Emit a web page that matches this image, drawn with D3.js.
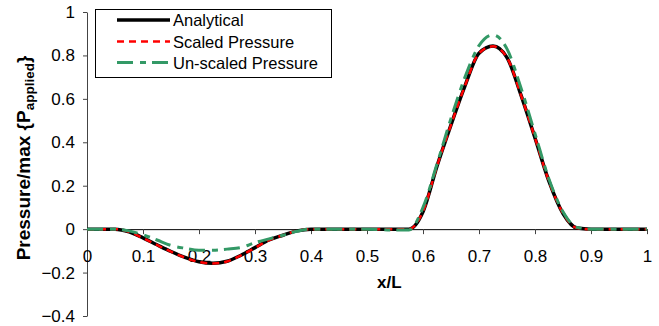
<!DOCTYPE html>
<html>
<head>
<meta charset="utf-8">
<script src="https://cdn.jsdelivr.net/npm/d3@7"></script>
<style>
  body { margin: 0; background: #fff; }
  text { font-family: "Liberation Sans", Arial, sans-serif; }
</style>
</head>
<body>
<div id="chart"></div>
<script>
// x/L positions
const xs = [0, 0.025, 0.05, 0.075, 0.1, 0.125, 0.15, 0.175, 0.2, 0.225, 0.25, 0.275, 0.3, 0.325, 0.35, 0.375, 0.4,
  0.45, 0.5, 0.55, 0.575, 0.6, 0.625, 0.65, 0.675, 0.7, 0.725, 0.75, 0.775, 0.8, 0.825, 0.85, 0.875, 0.9, 0.95, 1];

const analytical = [0, 0, 0, -0.012, -0.04, -0.072, -0.103, -0.13, -0.15, -0.157, -0.148, -0.12, -0.085, -0.05, -0.028, -0.008, 0,
  0, 0, 0, 0, 0.08, 0.29, 0.48, 0.66, 0.81, 0.843, 0.79, 0.617, 0.42, 0.22, 0.072, 0.005, 0, 0, 0];

const scaled = [0, 0, 0, -0.012, -0.041, -0.073, -0.104, -0.131, -0.151, -0.158, -0.149, -0.121, -0.086, -0.051, -0.028, -0.008, 0,
  0, 0, 0, 0, 0.082, 0.29, 0.48, 0.66, 0.81, 0.842, 0.79, 0.617, 0.42, 0.22, 0.073, 0.005, 0, 0, 0];

const unscaled = [0, 0, 0, -0.008, -0.026, -0.05, -0.075, -0.088, -0.097, -0.097, -0.092, -0.085, -0.062, -0.045, -0.028, -0.01, 0,
  0, 0, -0.004, -0.004, 0.1, 0.3, 0.51, 0.70, 0.845, 0.895, 0.83, 0.65, 0.44, 0.23, 0.08, 0.008, 0, 0, 0];

const xTicks = [0, 0.1, 0.2, 0.3, 0.4, 0.5, 0.6, 0.7, 0.8, 0.9, 1];
const yTicks = [-0.4, -0.2, 0, 0.2, 0.4, 0.6, 0.8, 1];

const seriesNames = ["Analytical", "Scaled Pressure", "Un-scaled Pressure"];
const seriesColors = ["#000000", "#ff0000", "#339966"];
const seriesDash = [null, "7,5", "16,7,6,6"];
const seriesWidth = [3.5, 2.5, 3];
const seriesValues = [analytical, scaled, unscaled];

const width = 659, height = 326;
const svg = d3.select("#chart").append("svg")
  .attr("width", width).attr("height", height);

const x = d3.scaleLinear().domain([0, 1]).range([87, 647]);
const y = d3.scaleLinear().domain([-0.4, 1]).range([316, 12]);

// y axis
const yAxis = svg.append("g")
  .attr("transform", `translate(${x(0)},0)`)
  .call(d3.axisLeft(y).tickValues(yTicks).tickFormat(d3.format("")).tickSize(4).tickPadding(8).tickSizeOuter(0));
yAxis.select(".domain").attr("stroke", "#444");
yAxis.selectAll(".tick line").attr("stroke", "#444");
yAxis.selectAll("text").attr("font-size", 17).attr("fill", "#000")
  .style("font-family", "'Liberation Sans', Arial, sans-serif");

// x axis on the zero line
const xAxis = svg.append("g")
  .attr("transform", `translate(0,${y(0)})`)
  .call(d3.axisBottom(x).tickValues(xTicks).tickFormat(d3.format("")).tickSize(5).tickPadding(16).tickSizeOuter(0));
xAxis.select(".domain").attr("stroke", "#000");
xAxis.selectAll(".tick line").attr("stroke", "#444");
xAxis.selectAll("text").attr("font-size", 17).attr("fill", "#000")
  .style("font-family", "'Liberation Sans', Arial, sans-serif");

// lines
const line = d3.line()
  .x((d, i) => x(xs[i]))
  .y(d => y(d))
  .curve(d3.curveMonotoneX);

seriesValues.forEach((vals, k) => {
  svg.append("path")
    .datum(vals)
    .attr("fill", "none")
    .attr("stroke", seriesColors[k])
    .attr("stroke-width", seriesWidth[k])
    .attr("stroke-dasharray", seriesDash[k])
    .attr("d", line);
});

// axis titles
svg.append("text")
  .attr("x", x(0.54)).attr("y", 288)
  .attr("text-anchor", "middle")
  .attr("font-size", 17).attr("font-weight", "bold")
  .text("x/L");

const yl = svg.append("text")
  .attr("transform", "translate(30,158) rotate(-90)")
  .attr("text-anchor", "middle")
  .attr("font-size", 19).attr("font-weight", "bold");
yl.append("tspan").text("Pressure/max {P");
yl.append("tspan").attr("font-size", 13.5).attr("dy", 4).text("applied");
yl.append("tspan").attr("dy", -4).text("}");

// legend
const legend = svg.append("g");
legend.append("rect")
  .attr("x", 95.5).attr("y", 9.5).attr("width", 236).attr("height", 68)
  .attr("fill", "#fff").attr("stroke", "#000").attr("stroke-width", 1);
const rowY = [20, 41.5, 62.5];
seriesNames.forEach((name, k) => {
  legend.append("line")
    .attr("x1", 117).attr("x2", 170).attr("y1", rowY[k]).attr("y2", rowY[k])
    .attr("stroke", seriesColors[k]).attr("stroke-width", seriesWidth[k])
    .attr("stroke-dasharray", seriesDash[k]);
  legend.append("text")
    .attr("x", 173).attr("y", rowY[k] + 6)
    .attr("font-size", 16.5)
    .text(name);
});
</script>
</body>
</html>
